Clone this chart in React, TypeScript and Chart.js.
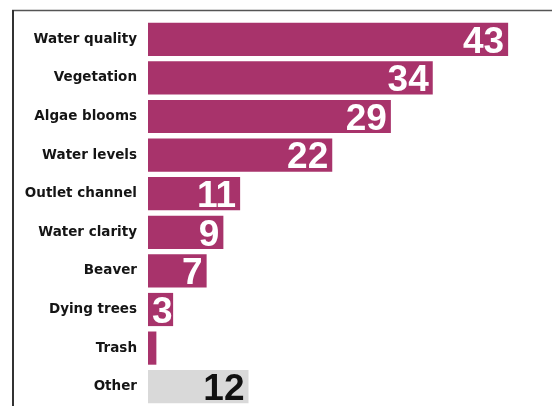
import React, { useEffect, useRef } from "react";
import { Chart, registerables } from "chart.js";

Chart.register(...registerables);

const categories = [
  "Water quality",
  "Vegetation",
  "Algae blooms",
  "Water levels",
  "Outlet channel",
  "Water clarity",
  "Beaver",
  "Dying trees",
  "Trash",
  "Other",
];
const counts = [43, 34, 29, 22, 11, 9, 7, 3, 1, 12];
const shownLabels = ["43", "34", "29", "22", "11", "9", "7", "3", "", "12"];
const barColors = [
  "#A8336B", "#A8336B", "#A8336B", "#A8336B", "#A8336B",
  "#A8336B", "#A8336B", "#A8336B", "#A8336B", "#D9D9D9",
];
const labelColors = [
  "#FFFFFF", "#FFFFFF", "#FFFFFF", "#FFFFFF", "#FFFFFF",
  "#FFFFFF", "#FFFFFF", "#FFFFFF", "#FFFFFF", "#111111",
];

const framePlugin = {
  id: "frame",
  afterDraw(chart: any) {
    const ctx = chart.ctx;
    ctx.save();
    ctx.strokeStyle = "#555";
    ctx.lineWidth = 1.5;
    ctx.beginPath();
    ctx.moveTo(12, 10.5);
    ctx.lineTo(552, 10.5);
    ctx.stroke();
    ctx.strokeStyle = "#333";
    ctx.lineWidth = 2;
    ctx.beginPath();
    ctx.moveTo(13, 10);
    ctx.lineTo(13, 406);
    ctx.stroke();
    ctx.restore();
  },
};

const valueLabelPlugin = {
  id: "valueLabels",
  afterDatasetsDraw(chart: any) {
    const ctx = chart.ctx;
    const meta = chart.getDatasetMeta(0);
    ctx.save();
    const size = 37;
    ctx.font = `bold ${size}px "Liberation Sans", Arial, sans-serif`;
    ctx.textAlign = "right";
    ctx.textBaseline = "alphabetic";
    meta.data.forEach((bar: any, i: number) => {
      const text = shownLabels[i];
      if (!text) return;
      const w = ctx.measureText(text).width;
      const x = Math.max(bar.x - 4, bar.base + w + 4);
      ctx.fillStyle = labelColors[i];
      ctx.fillText(text, x, bar.y + size * 0.358);
    });
    ctx.restore();
  },
};

export default function App() {
  const canvasRef = useRef<HTMLCanvasElement>(null);

  useEffect(() => {
    const canvas = canvasRef.current;
    if (!canvas) return;
    const chart = new Chart(canvas, {
      type: "bar",
      data: {
        labels: categories,
        datasets: [
          {
            data: counts,
            backgroundColor: barColors,
            borderWidth: 0,
            barPercentage: 0.86,
            categoryPercentage: 1,
          },
        ],
      },
      options: {
        indexAxis: "y",
        responsive: false,
        animation: false,
        layout: { padding: { top: 20, bottom: 0, left: 0, right: 2 } },
        plugins: {
          legend: { display: false },
          tooltip: { enabled: false },
        },
        scales: {
          x: { display: false, min: 0, max: 48 },
          y: {
            grid: { display: false },
            border: { display: false },
            afterFit: (scale: any) => {
              scale.width = 148;
              scale.paddingTop = 0;
              scale.paddingBottom = 0;
            },
            ticks: {
              padding: 3,
              color: "#151515",
              font: { family: "'DejaVu Sans', sans-serif", weight: "bold", size: 13.5 },
            },
          },
        },
      },
      plugins: [valueLabelPlugin, framePlugin],
    });
    return () => chart.destroy();
  }, []);

  return (
    <div style={{ position: "fixed", left: 0, top: 0, width: 552, height: 406, background: "#fff" }}>
      <canvas ref={canvasRef} width={552} height={406} />
    </div>
  );
}
